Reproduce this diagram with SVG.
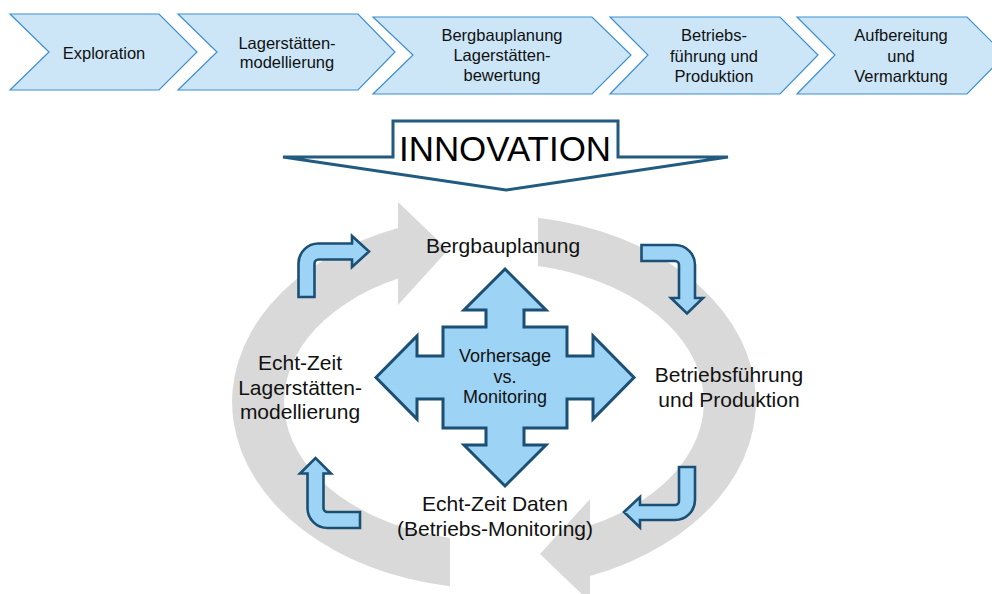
<svg xmlns="http://www.w3.org/2000/svg" width="992" height="594" viewBox="0 0 992 594">
  <style>
    .chev { fill: #cce6f7; stroke: #3d8fd1; stroke-width: 1.2; }
    .chev-t { font-family: "Liberation Sans", Arial, sans-serif; font-size: 16.5px; fill: #111; text-anchor: middle; }
    .lbl { font-family: "Liberation Sans", Arial, sans-serif; font-size: 21px; fill: #111; text-anchor: middle; }
    .mid { font-family: "Liberation Sans", Arial, sans-serif; font-size: 18px; fill: #111; text-anchor: middle; }
    .ring { fill: #d9d9d9; }
    .blue { fill: #9dd3f5; stroke: #1b4f74; stroke-width: 3; stroke-linejoin: miter; }
    .bend { fill: #9dd3f5; stroke: #1b4f74; stroke-width: 2.6; stroke-linejoin: miter; }
  </style>

  <!-- process chain -->
  <g id="step-exploration">
    <polygon class="chev" points="10,14 159,14 197,52 159,90 10,90 49,52"/>
    <text class="chev-t" x="104" y="59">Exploration</text>
  </g>
  <g id="step-modellierung">
    <polygon class="chev" points="178,14 358,14 395,52 358,90 178,90 217,52"/>
    <text class="chev-t" x="287" y="49">Lagerstätten-</text>
    <text class="chev-t" x="287" y="68">modellierung</text>
  </g>
  <g id="step-planung">
    <polygon class="chev" points="373,17 592,17 631,55 592,94 373,94 413,55"/>
    <text class="chev-t" x="502" y="41">Bergbauplanung</text>
    <text class="chev-t" x="502" y="61">Lagerstätten-</text>
    <text class="chev-t" x="502" y="81">bewertung</text>
  </g>
  <g id="step-betrieb">
    <polygon class="chev" points="610,17 780,17 818,55 780,94 610,94 648,55"/>
    <text class="chev-t" x="714" y="41">Betriebs-</text>
    <text class="chev-t" x="714" y="61.5">führung und</text>
    <text class="chev-t" x="714" y="81.5">Produktion</text>
  </g>
  <g id="step-aufbereitung">
    <polygon class="chev" points="797,17 967,17 1005,55 967,94 797,94 835,55"/>
    <text class="chev-t" x="901" y="41">Aufbereitung</text>
    <text class="chev-t" x="901" y="61.5">und</text>
    <text class="chev-t" x="901" y="81.5">Vermarktung</text>
  </g>

  <!-- innovation arrow -->
  <g id="innovation">
    <polygon points="283,157 393,157 393,121 618,121 618,157 728,157 506,190" fill="#ffffff" stroke="#215b80" stroke-width="3"/>
    <text x="505" y="161" font-family="Liberation Sans, Arial, sans-serif" font-size="35" fill="#000" text-anchor="middle" textLength="212" lengthAdjust="spacingAndGlyphs">INNOVATION</text>
  </g>

  <!-- cycle arrows and turn arrows -->
  <g id="connectors">
    <path class="ring" d="M450,586.3 A262,187 0 0 1 398,228 L398,202 L448,250 L398,305 L398,278.4 A210,139 0 0 0 450,537.9 Z"/>
    <path class="ring" transform="rotate(180 494 402)" d="M450,586.3 A262,187 0 0 1 398,228 L398,202 L448,250 L398,305 L398,278.4 A210,139 0 0 0 450,537.9 Z"/>

    <path class="bend" d="M298.5,297 L298.5,263.5 A20,20 0 0 1 318.5,243.5 L352,243.5 L352,236 L369,251.5 L352,267 L352,259.5 L318.5,259.5 A4,4 0 0 0 314.5,263.5 L314.5,297 Z"/>
    <path class="bend" d="M641.5,245 L675,245 A20,20 0 0 1 695,265 L695,298 L703,298 L687,313.5 L671,298 L679,298 L679,265 A4,4 0 0 0 675,261 L641.5,261 Z"/>
    <path class="bend" d="M679,467 L695,467 L695,500 A20,20 0 0 1 675,520 L640,520 L640,527.5 L624,512 L640,497 L640,505 L675,505 A4,4 0 0 0 679,501 Z"/>
    <path class="bend" d="M360,512 L327.5,512 A4,4 0 0 1 323.5,508 L323.5,473.5 L331,473.5 L315.5,458 L300,473.5 L307.5,473.5 L307.5,508 A20,20 0 0 0 327.5,528 L360,528 Z"/>
  </g>

  <!-- cycle stages -->
  <g id="stage-planung">
    <text class="lbl" x="503" y="253">Bergbauplanung</text>
  </g>
  <g id="stage-betrieb">
    <text class="lbl" x="729" y="382">Betriebsführung</text>
    <text class="lbl" x="729" y="407">und Produktion</text>
  </g>
  <g id="stage-daten">
    <text class="lbl" x="495" y="511">Echt-Zeit Daten</text>
    <text class="lbl" x="495" y="536">(Betriebs-Monitoring)</text>
  </g>
  <g id="stage-modell">
    <text class="lbl" x="300" y="370">Echt-Zeit</text>
    <text class="lbl" x="300" y="395">Lagerstätten-</text>
    <text class="lbl" x="300" y="419">modellierung</text>
  </g>

  <!-- central four-way arrow -->
  <g id="vorhersage">
    <path class="blue" d="M505,269 L546,310 L524,310 L524,327 L567,327 L567,356 L593,356 L593,336 L634,377.5 L593,419 L593,399 L567,399 L567,428 L524,428 L524,445 L546,445 L505,486 L464,445 L486,445 L486,428 L443,428 L443,399 L417,399 L417,419 L376,377.5 L417,336 L417,356 L443,356 L443,327 L486,327 L486,310 L464,310 Z"/>
    <text class="mid" x="505" y="362">Vorhersage</text>
    <text class="mid" x="505" y="382.5">vs.</text>
    <text class="mid" x="505" y="403">Monitoring</text>
  </g>
</svg>
